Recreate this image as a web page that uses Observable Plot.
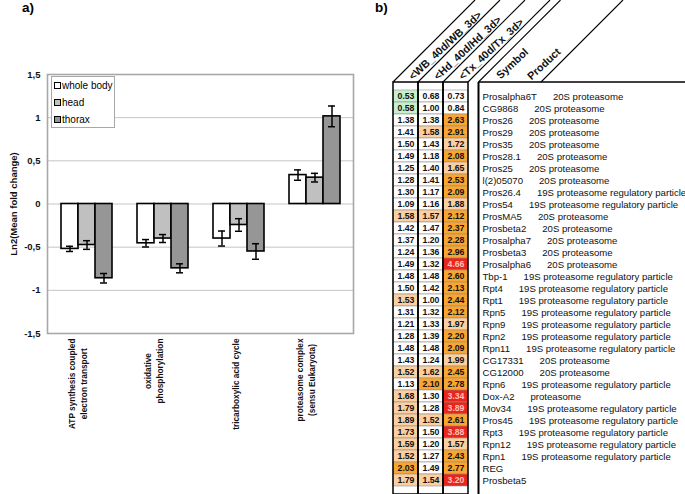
<!DOCTYPE html>
<html><head><meta charset="utf-8">
<script src="https://cdn.jsdelivr.net/npm/d3@7"></script>
<script src="https://cdn.jsdelivr.net/npm/@observablehq/plot@0.6"></script>
<style>
body{margin:0;background:#fff;font-family:"Liberation Sans",Arial,sans-serif;}
#root{position:relative;width:685px;height:494px;overflow:hidden;background:#fff;}
#root svg{position:absolute;top:0;}
.plab{position:absolute;top:0px;font-weight:bold;font-size:13.5px;}
#legend{position:absolute;left:51px;top:76px;width:62px;height:50px;border:1px solid #a8a8a8;background:#fff;font-size:10px;white-space:nowrap;overflow:hidden;}
#legend div{height:17px;display:flex;align-items:center;padding-left:2px;}
#legend span.sw{display:inline-block;flex:none;width:5px;height:5px;border:1.6px solid #000;margin-right:1px;}
</style></head><body><div id="root"></div>
<script>
// ---------- panel a data ----------
const groups = ["ATP synthesis coupled\nelectron transport", "oxidative\nphosphorylation", "tricarboxylic acid cycle", "proteasome complex\n(sensu Eukaryota)"];
const series = ["whole body", "head", "thorax"];
const seriesColors = ["#ffffff", "#c0c0c0", "#969696"];
const wholeBody = [-0.52, -0.455, -0.40, 0.335];
const wholeBodyErr = [0.03, 0.043, 0.087, 0.06];
const head = [-0.475, -0.40, -0.243, 0.305];
const headErr = [0.05, 0.046, 0.073, 0.05];
const thorax = [-0.86, -0.745, -0.55, 1.015];
const thoraxErr = [0.055, 0.052, 0.09, 0.12];
const yTicks = [-1.5, -1, -0.5, 0, 0.5, 1, 1.5];

// ---------- panel b data ----------
const ratioCols = ["<WB_40d/WB_3d>", "<Hd_40d/Hd_3d>", "<Tx_40d/Tx_3d>"];
const symbols = ["Prosalpha6T","CG9868","Pros26","Pros29","Pros35","Pros28.1","Pros25","l(2)05070","Pros26.4","Pros54","ProsMA5","Prosbeta2","Prosalpha7","Prosbeta3","Prosalpha6","Tbp-1","Rpt4","Rpt1","Rpn5","Rpn9","Rpn2","Rpn11","CG17331","CG12000","Rpn6","Dox-A2","Mov34","Pros45","Rpt3","Rpn12","Rpn1","REG","Prosbeta5"];
const P20 = "20S proteasome", P19 = "19S proteasome regulatory particle";
const products = [P20,P20,P20,P20,P20,P20,P20,P20,P19,P19,P20,P20,P20,P20,P20,P19,P19,P19,P19,P19,P19,P19,P20,P20,P19,"proteasome",P19,P19,P19,P19,P19,"",""];
const wbRatio = [0.53,0.58,1.38,1.41,1.50,1.49,1.25,1.28,1.30,1.09,1.58,1.42,1.37,1.24,1.49,1.48,1.50,1.53,1.31,1.21,1.28,1.48,1.43,1.52,1.13,1.68,1.79,1.89,1.73,1.59,1.52,2.03,1.79];
const hdRatio = [0.68,1.00,1.38,1.58,1.43,1.18,1.40,1.41,1.17,1.16,1.57,1.47,1.20,1.36,1.32,1.48,1.42,1.00,1.32,1.33,1.39,1.48,1.24,1.62,2.10,1.30,1.28,1.52,1.50,1.20,1.27,1.49,1.54];
const txRatio = [0.73,0.84,2.63,2.91,1.72,2.08,1.65,2.53,2.09,1.88,2.12,2.37,2.28,2.96,4.66,2.60,2.13,2.44,2.12,1.97,2.20,2.09,1.99,2.45,2.78,3.34,3.89,2.61,3.88,1.57,2.43,2.77,3.20];
const thresholds = [0.66, 1.505, 2.0, 3.0];
const heatColors = ["#c6efce", "#ffffff", "#fbcf9f", "#f8a531", "#e8261d"];

const FONT = "Liberation Sans, Arial, sans-serif";
const root = document.getElementById("root");

// ---------- panel a ----------
const barRows = groups.flatMap((g, i) => series.map((s, j) => ({
  group: g, series: s,
  value: [wholeBody, head, thorax][j][i],
  err: [wholeBodyErr, headErr, thoraxErr][j][i]
})));
const A = {width: 370, height: 494, marginLeft: 47, marginRight: 17, marginTop: 74, marginBottom: 161};
const fmt = d => String(d).replace(".", ",");

const bg = Plot.plot({
  ...A,
  style: {fontFamily: FONT, background: "white"},
  x: {type: "band", domain: groups, padding: 0, axis: null},
  y: {domain: [-1.5, 1.5], axis: null},
  marks: [
    Plot.ruleY(yTicks, {y: d => d, stroke: "#c4c4c4", strokeWidth: 1}),
    Plot.frame({stroke: "#a8a8a8", strokeWidth: 1.6}),
    Plot.text(yTicks, {y: d => d, frameAnchor: "left", dx: -7, textAnchor: "end", text: fmt, fontWeight: "bold", fontSize: 9.5, fill: "#111"}),
    Plot.text(groups, {x: d => d, text: d => d, frameAnchor: "bottom", rotate: -90, textAnchor: "end", dy: 5, lineHeight: 1.33, fontWeight: "bold", fontSize: 8.3, fill: "#111"}),
    Plot.text(["Ln2(Mean fold change)"], {text: d => d, frameAnchor: "left", textAnchor: "middle", rotate: -90, dx: -34, fontWeight: "bold", fontSize: 9.5, fill: "#111"})
  ]
});
bg.style.left = "0px";
root.appendChild(bg);

const fg = Plot.plot({
  ...A,
  style: {fontFamily: FONT, background: "transparent"},
  fx: {domain: groups, padding: 0, axis: null},
  x: {domain: series, paddingInner: 0, paddingOuter: 0.7, axis: null},
  y: {domain: [-1.5, 1.5], axis: null},
  color: {domain: series, range: seriesColors},
  marks: [
    Plot.barY(barRows, {fx: "group", x: "series", y: "value", fill: "series", stroke: "#000", strokeWidth: 1.6}),
    Plot.ruleX(barRows, {fx: "group", x: "series", y1: d => d.value - d.err, y2: d => d.value + d.err, stroke: "#000", strokeWidth: 1.5}),
    Plot.tickY(barRows, {fx: "group", x: "series", y: d => d.value - d.err, stroke: "#000", strokeWidth: 1.5, insetLeft: 5, insetRight: 5}),
    Plot.tickY(barRows, {fx: "group", x: "series", y: d => d.value + d.err, stroke: "#000", strokeWidth: 1.5, insetLeft: 5, insetRight: 5})
  ]
});
fg.style.left = "0px";
root.appendChild(fg);

// center the lines of multi-line category labels
bg.querySelectorAll("text").forEach(t => {
  const ts = t.querySelectorAll("tspan");
  if (ts.length > 1) {
    const L = Math.max(...[...ts].map(s => s.getComputedTextLength()));
    t.setAttribute("text-anchor", "middle");
    ts.forEach(s => s.setAttribute("x", -L / 2));
  }
});

// legend
const leg = document.createElement("div");
leg.id = "legend";
series.forEach((s, i) => {
  const row = document.createElement("div");
  const sw = document.createElement("span");
  sw.className = "sw";
  sw.style.background = seriesColors[i];
  row.appendChild(sw);
  row.appendChild(document.createTextNode(s));
  leg.appendChild(row);
});
root.appendChild(leg);

// ---------- panel b ----------
const cellData = symbols.flatMap((s, i) => ratioCols.map((c, j) => ({
  symbol: s, col: c, value: [wbRatio, hdRatio, txRatio][j][i]
})));
const rowText = symbols.map((s, i) => ({symbol: s, label: products[i] ? s + "\u00a0".repeat(6) + products[i] : s}));

const T = {width: 315, height: 494, marginLeft: 23, marginRight: 217, marginTop: 82, marginBottom: 0};
const hdr = {textAnchor: "start", lineAnchor: "bottom", rotate: -43, fontWeight: "bold", fontSize: 10.8, fill: "#111"};
const tb = Plot.plot({
  ...T,
  style: {fontFamily: FONT, background: "transparent", overflow: "visible"},
  x: {domain: ratioCols, padding: 0, axis: null},
  y: {domain: symbols, padding: 0, axis: null},
  color: {type: "threshold", domain: thresholds, range: heatColors},
  marks: [
    Plot.cell(cellData, {x: "col", y: "symbol", fill: "value", stroke: "#909090", strokeWidth: 0.6}),
    Plot.cell(ratioCols, {x: d => d, fill: "none", stroke: "#000", strokeWidth: 1.5}),
    Plot.text(cellData, {x: "col", y: "symbol", text: d => d.value.toFixed(2), fill: d => d.value > 3 ? "#ffc2b6" : "#111", fontWeight: "bold", fontSize: 8.7}),
    Plot.text(rowText, {y: "symbol", text: "label", frameAnchor: "right", textAnchor: "start", dx: 14, fontSize: 9.6, fill: "#111"}),
    Plot.text(ratioCols, {x: d => d, text: d => d, frameAnchor: "top", dx: 7, dy: -2, ...hdr}),
    Plot.text(["Symbol"], {text: d => d, frameAnchor: "top-right", dx: 32, dy: -3, ...hdr}),
    Plot.text(["Product"], {text: d => d, frameAnchor: "top-right", dx: 63, dy: -2, ...hdr})
  ]
});
tb.style.left = "370px";
root.appendChild(tb);

// table rules (decoration)
{
  const xs = tb.scale("x");
  const bw = xs.bandwidth;
  const starts = ratioCols.map(c => xs.apply(c));
  const right = starts[starts.length - 1] + bw;
  const symLeft = right + 10.5;
  const prodLine = right + 73;
  const top = T.marginTop;
  const g = d3.select(tb).append("g").attr("stroke", "#000").attr("fill", "none");
  const diag = [...starts, right, symLeft, prodLine];
  g.selectAll("line.d").data(diag).join("line")
    .attr("x1", d => d).attr("y1", top).attr("x2", d => d + top).attr("y2", 0)
    .attr("stroke-width", 1.1);
  g.append("line").attr("x1", symLeft).attr("x2", T.width).attr("y1", top).attr("y2", top).attr("stroke-width", 1.3);
  g.append("line").attr("x1", symLeft).attr("x2", symLeft).attr("y1", top).attr("y2", T.height).attr("stroke-width", 2);
}

// panel labels
[["a)", 22], ["b)", 375]].forEach(([t, x]) => {
  const d = document.createElement("div");
  d.className = "plab";
  d.style.left = x + "px";
  d.textContent = t;
  root.appendChild(d);
});
</script>
</body></html>
